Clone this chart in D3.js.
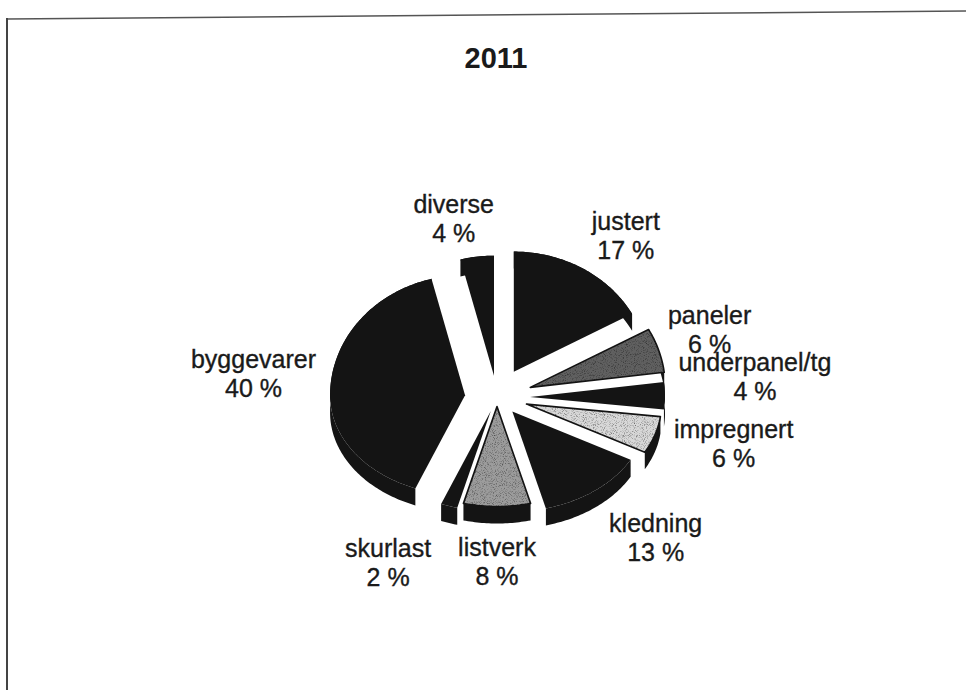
<!DOCTYPE html>
<html>
<head>
<meta charset="utf-8">
<script src="https://cdn.jsdelivr.net/npm/d3@7"></script>
<style>
  body { margin: 0; background: #fff; }
  text { font-family: "Liberation Sans", Arial, sans-serif; fill: #1a1a1a; }
</style>
</head>
<body>
<script>
// data
var title = '2011';
var categories = ['justert', 'paneler', 'underpanel/tg', 'impregnert', 'kledning',
                  'listverk', 'skurlast', 'byggevarer', 'diverse'];
var shares = [17, 6, 4, 6, 13, 8, 2, 40, 4];

// look of each slice (same order as categories)
var ink = '#141414';
var tones = [ink, '#606060', ink, '#d8d8d8', ink, '#9c9c9c', ink, ink, ink];
var explode = [33, 35, 33, 31, 25, 13, 20, 32, 24];
var labelNudge = [[22, -6], [13, -15], [48, -26], [37, -7], [30, 12],
                  [0, 4], [-44, 12], [-34, -17], [-17, 1]];

var W = 966, H = 690;
var cx = 497, cy = 397;
var kTop = 0.89, kBot = 0.74;   // tilt, back half looks a bit taller
var depth = 17;

var svg = d3.select('body').append('svg')
   .attr('width', W)
   .attr('height', H);

var defs = svg.append('defs');
var f = defs.append('filter')
   .attr('id', 'speckle')
   .attr('x', 0).attr('y', 0).attr('width', '100%').attr('height', '100%');
f.append('feTurbulence')
   .attr('type', 'fractalNoise')
   .attr('baseFrequency', 1.1)
   .attr('numOctaves', 1)
   .attr('seed', 7)
   .attr('result', 'noise');
f.append('feColorMatrix')
   .attr('in', 'noise')
   .attr('type', 'matrix')
   .attr('values', '0 0 0 0 0  0 0 0 0 0  0 0 0 0 0  3 0 0 0 -1.5')
   .attr('result', 'dots');
f.append('feComposite')
   .attr('in', 'dots')
   .attr('in2', 'SourceGraphic')
   .attr('operator', 'in');

// scanned frame
svg.append('line')
   .attr('x1', 7).attr('y1', 19).attr('x2', W).attr('y2', 11)
   .attr('stroke', '#555').attr('stroke-width', 1.5);
svg.append('line')
   .attr('x1', 7).attr('y1', 18).attr('x2', 7).attr('y2', H)
   .attr('stroke', '#444').attr('stroke-width', 2);

svg.append('text')
   .attr('x', 496).attr('y', 68)
   .attr('text-anchor', 'middle')
   .attr('font-size', 29)
   .attr('font-weight', 'bold')
   .text(title);

var rScale = d3.scaleLinear().domain([0, 1]).range([0, 135]);

function project(X, Z) {
  return [cx + X, cy - Z * (Z > 0 ? kTop : kBot)];
}

var pie = d3.pie().sort(null).value(function(d) { return d; });
var arcs = pie(shares).map(function(d, i) {
  d.i = i;
  d.mid = (d.startAngle + d.endAngle) / 2;
  return d;
});

var line = d3.line();
var R = rScale(1);

function geometry(d) {
  var e = explode[d.i];
  var ox = e * Math.sin(d.mid), oz = e * Math.cos(d.mid);
  var n = Math.max(4, Math.ceil((d.endAngle - d.startAngle) / (Math.PI / 180)));
  var rim = d3.range(n + 1).map(function(j) {
    var a = d.startAngle + (d.endAngle - d.startAngle) * j / n;
    return project(ox + R * Math.sin(a), oz + R * Math.cos(a));
  });
  var top = [project(ox, oz)].concat(rim);
  var band = rim.concat(rim.slice().reverse().map(function(p) { return [p[0], p[1] + depth]; }));
  return {top: top, band: band};
}

// back slices first
var order = arcs.slice().sort(function(a, b) { return Math.cos(b.mid) - Math.cos(a.mid); });

var g = svg.append('g');
order.forEach(function(d) {
  var geo = geometry(d);
  var grey = tones[d.i] != ink;
  var s = g.append('g').attr('class', 'slice');
  s.append('path')
     .attr('d', line(geo.band) + 'Z')
     .attr('fill', ink);
  s.append('path')
     .attr('d', line(geo.top) + 'Z')
     .attr('fill', tones[d.i])
     .attr('stroke', grey ? ink : 'none')
     .attr('stroke-width', 1.6)
     .attr('stroke-linejoin', 'round');
  if (grey) {
    s.append('path')
       .attr('d', line(geo.top) + 'Z')
       .attr('fill', '#000')
       .attr('opacity', 0.5)
       .attr('filter', 'url(#speckle)');
  }
});

// labels
var labels = svg.append('g');
arcs.forEach(function(d) {
  var p = project(rScale(1.555) * Math.sin(d.mid), rScale(1.555) * Math.cos(d.mid));
  var x = p[0] + labelNudge[d.i][0], y = p[1] + labelNudge[d.i][1];
  var t = labels.append('text')
     .attr('text-anchor', 'middle')
     .attr('font-size', 25)
     .attr('stroke', '#1a1a1a')
     .attr('stroke-width', 0.35)
     .attr('x', x).attr('y', y);
  t.append('tspan').attr('x', x).text(categories[d.i]);
  t.append('tspan').attr('x', x).attr('dy', 29).text(shares[d.i] + ' %');
});
</script>
</body>
</html>
